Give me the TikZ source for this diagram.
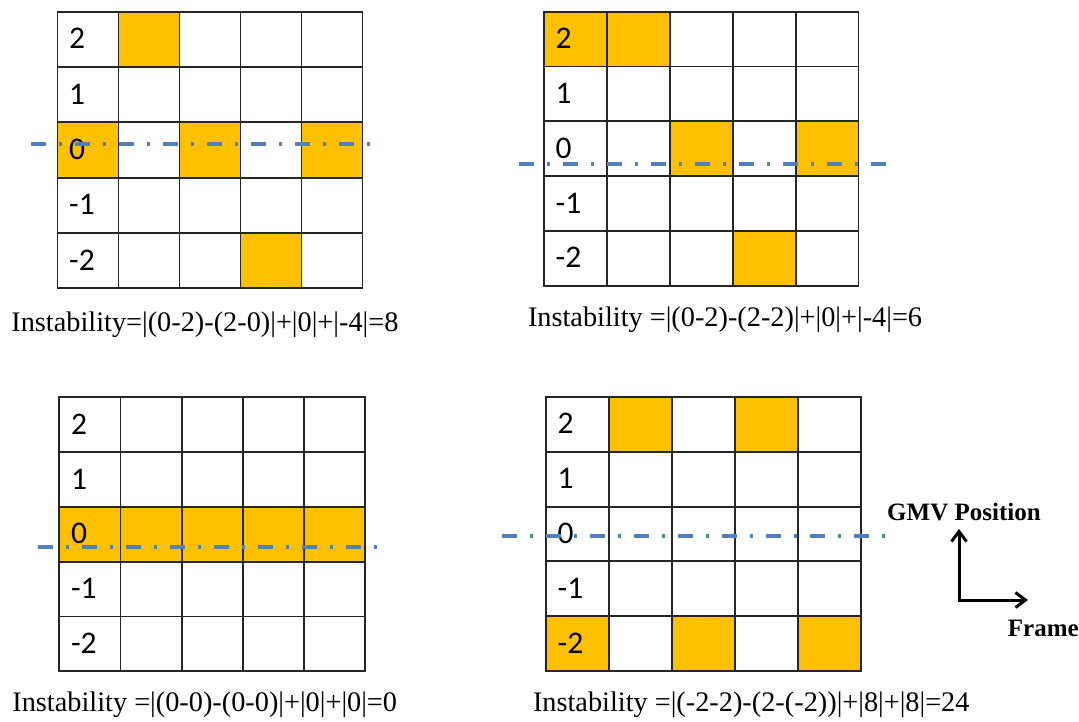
\documentclass[tikz,border=0pt]{standalone}
\usepackage{fontspec}
\setmainfont{Liberation Serif}
\newfontfamily\cellfont{Carlito}
\usetikzlibrary{arrows.meta}
\definecolor{cellorange}{HTML}{FFC000}
\definecolor{gmvblue}{HTML}{4F81BD}
\newcommand\mygrid[6]{%
  \foreach \c/\r in {#5} {\fill[cellorange] (#1+\c*#3, #2+\r*#4) rectangle ++(#3,#4);}
  \foreach \i in {0,...,5} {
    \draw[gridline] (#1+\i*#3,#2) -- ++(0,5*#4);
    \draw[gridline] (#1,#2+\i*#4) -- ++(5*#3,0);
  }
  \foreach \lab [count=\k from 0] in {2,1,0,-1,-2} {
    \node[celltext] (#6-\k) at (#1+11.5, #2+\k*#4+#4/2+9.5) {\lab};
  }
}
\begin{document}
\begin{tikzpicture}[x=1pt,y=-1pt,
  gridline/.style={line width=1.9pt, draw=black!85, line cap=rect},
  celltext/.style={anchor=base west, inner sep=0pt, font=\cellfont\fontsize{31.5}{32}\selectfont},
  formula/.style={anchor=base west, inner sep=0pt, font=\fontsize{28.3}{30}\selectfont},
  axislabel/.style={anchor=base west, inner sep=0pt, font=\bfseries\fontsize{25}{27}\selectfont},
  gmvline/.style={line width=4pt, draw=gmvblue, dash pattern=on 15pt off 13pt on 3pt off 13pt},
  axisarrow/.style={line width=3pt, draw=black, {Straight Barb[length=10pt,width=15pt]}-{Straight Barb[length=10pt,width=15pt]}}]
\useasboundingbox (0,0) rectangle (1079,721);
\fill[white] (0,0) rectangle (1079,721);

% grids
\mygrid{57.5}{11.7}{61}{55.3}{1/0,0/2,2/2,4/2,3/4}{ga}
\mygrid{544}{11.7}{62.9}{54.8}{0/0,1/0,2/2,4/2,3/4}{gb}
\mygrid{59.3}{397.3}{61.2}{54.8}{0/2,1/2,2/2,3/2,4/2}{gc}
\mygrid{546}{397}{63}{54.8}{1/0,3/0,0/4,2/4,4/4}{gd}

% GMV lines
\coordinate (la1) at (31,144);   \coordinate (la2) at (372,144);
\coordinate (lb1) at (519,164);  \coordinate (lb2) at (887,164);
\coordinate (lc1) at (38,546.7); \coordinate (lc2) at (378,546.7);
\coordinate (ld1) at (502,536);  \coordinate (ld2) at (887,536);
\draw[gmvline] (la1) -- (la2);
\draw[gmvline] (lb1) -- (lb2);
\draw[gmvline] (lc1) -- (lc2);
\draw[gmvline] (ld1) -- (ld2);

% formulas
\node[formula] (ta) at (11.2,331.7) {Instability=|(0-2)-(2-0)|+|0|+|-4|=8};
\node[formula] (tb) at (527.8,326.7) {Instability =|(0-2)-(2-2)|+|0|+|-4|=6};
\node[formula] (tc) at (12.2,711.5) {Instability =|(0-0)-(0-0)|+|0|+|0|=0};
\node[formula] (td) at (532.8,711.5) {Instability =|(-2-2)-(2-(-2))|+|8|+|8|=24};

% axes
\coordinate (ax0) at (959,600);
\coordinate (axup) at (959,529);
\coordinate (axright) at (1028,600);
\draw[axisarrow, line join=miter] (axup) -- (ax0) -- (axright);
\node[axislabel] (gmv) at (887,520.7) {GMV Position};
\node[axislabel] (frame) at (1007.7,636.7) {Frame};
\end{tikzpicture}
\end{document}
